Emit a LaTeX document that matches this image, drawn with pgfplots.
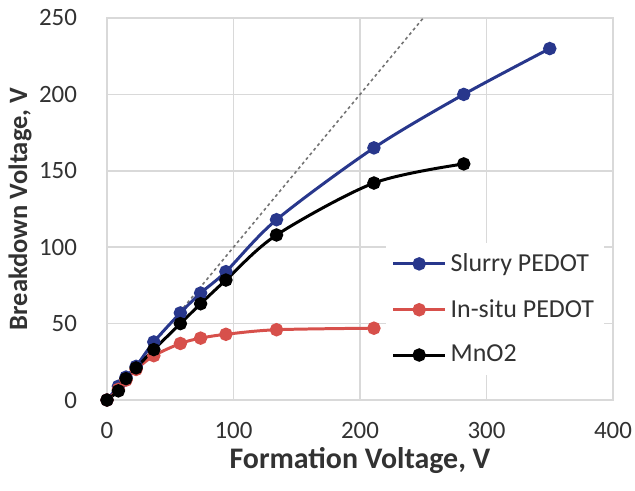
\documentclass[border=0pt]{standalone}
\usepackage{pgfplots}
\pgfplotsset{compat=1.18}
\usepackage{fontspec}
\setmainfont{Carlito}
\definecolor{cblue}{RGB}{40,55,140}
\definecolor{cred}{RGB}{215,80,75}
\definecolor{cgrid}{RGB}{217,217,217}
\definecolor{ctick}{RGB}{50,50,50}
\begin{document}
\begin{tikzpicture}
\begin{axis}[
  name=ax,
  scale only axis, width=253bp, height=191bp,
  xmin=0, xmax=400, ymin=0, ymax=250,
  xtick={0,100,...,400}, ytick={0,50,...,250},
  grid=major, grid style={cgrid, line width=0.8pt},
  axis line style={cgrid, line width=0.8pt},
  major tick length=0pt,
  /pgf/number format/assume math mode=true,
  tick label style={font=\fontsize{12.5}{14}\selectfont, text=ctick},
  xticklabel style={inner sep=1bp, yshift=-10.2bp},
  yticklabel style={xshift=-11.5bp},
  xlabel={\textbf{Formation Voltage, V}},
  ylabel={\textbf{Breakdown Voltage, V}},
  label style={text=ctick},
  xlabel style={font=\fontsize{15}{17}\selectfont, at={([yshift=-34bp]axis description cs:0.5,0)}, anchor=base},
  ylabel style={font=\fontsize{13.3}{15}\selectfont, at={([xshift=-43.5bp]axis description cs:0,0.5)}, anchor=center, rotate=0},
  legend style={at={(rel axis cs:0.55,0.411)}, anchor=north west, fill=white, draw=none,
    font=\fontsize{13}{15}\selectfont, text=ctick, row sep=8.5bp, inner sep=3bp},
  legend cell align=left,
  legend image code/.code={\draw[mark repeat=2,mark phase=2] plot coordinates {(0bp,0bp) (13bp,0bp) (26bp,0bp)};},
  clip=true,
]
\addplot[forget plot, gray!90!black, line width=0.8pt, dash pattern=on 1.5bp off 1.5bp] coordinates {(0,0) (260,260)};
\addplot[cblue, line width=1.5pt, smooth, tension=0.5, mark=*, mark size=2.6bp, mark options={solid}] coordinates {
(0,0) (9,9) (15,15) (23,22) (37,38) (58,57) (74,70) (94,84) (134,118) (211,165) (282,200) (350,230)};
\addlegendentry{Slurry PEDOT}
\addplot[cred, line width=1.5pt, smooth, tension=0.5, mark=*, mark size=2.6bp] coordinates {
(0,0) (9,7) (15,13) (23,20) (37,29) (58,37) (74,40.5) (94,43) (134,46) (211,47)};
\addlegendentry{In-situ PEDOT}
\addplot[black, line width=1.5pt, smooth, tension=0.5, mark=*, mark size=2.6bp] coordinates {
(0,0) (9,6) (15,14) (23,21) (37,33) (58,50) (74,63) (94,78.5) (134,108) (211,142) (282,154.5)};
\addlegendentry{MnO2}
\end{axis}
\path ([shift={(-53.5bp,-45bp)}]ax.south west) rectangle ([shift={(11bp,9bp)}]ax.north east);
\end{tikzpicture}
\end{document}
